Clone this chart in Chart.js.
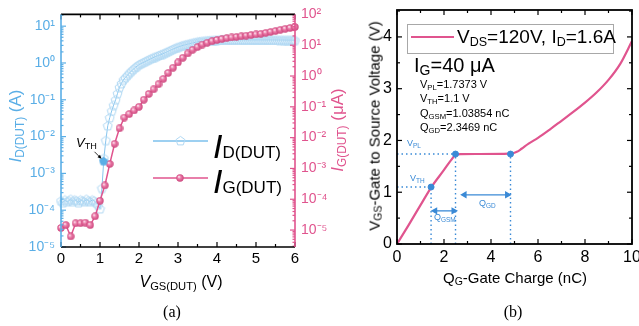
<!DOCTYPE html>
<html>
<head>
<meta charset="utf-8">
<script src="https://cdn.jsdelivr.net/npm/chart.js@4.4.0/dist/chart.umd.min.js"></script>
<style>
body { margin: 0; background: #fff; font-family: "Liberation Sans", Arial, sans-serif; }
#wrap { position: relative; width: 639px; height: 326px; overflow: hidden; }
canvas { position: absolute; top: 0; }
#ca { left: 0; }
#cb { left: 355px; }
.t { position: absolute; white-space: nowrap; line-height: 1; }
.rot { transform: translate(-50%, -50%) rotate(-90deg); }
.ctr { transform: translate(-50%, -50%); }
.s { font-size: 0.7em; vertical-align: -0.22em; }
.blue { color: #5aaee6; }
.pink { color: #e0548e; }
.ann { color: #3a8ad6; font-size: 9px; }
.ann .s { font-size: 0.72em; vertical-align: -0.25em; }
.serif { font-family: "Liberation Serif", "Times New Roman", serif; }
#lgb { position: absolute; left: 407px; top: 24px; width: 205px; height: 28px; border: 1px solid #a8a8a8; }
#lgbLine { position: absolute; left: 411px; top: 36px; width: 43px; height: 2px; background: #e0548e; }
</style>
</head>
<body>
<div id="wrap">
  <canvas id="ca" width="355" height="326"></canvas>
  <canvas id="cb" width="284" height="326"></canvas>

  <!-- (a) texts -->
  <div class="t rot blue" style="left:17px;top:126px;font-size:17px"><i>I</i><span class="s">D(DUT)</span> (A)</div>
  <div class="t rot pink" style="left:339px;top:130px;font-size:17px"><i>I</i><span class="s">G(DUT)</span> (μA)</div>
  <div class="t ctr" style="left:181px;top:283px;font-size:16px"><i>V</i><span class="s">GS(DUT)</span> (V)</div>
  <div class="t ctr serif" style="left:172px;top:312px;font-size:16px">(a)</div>
  <div class="t" style="left:76px;top:136px;font-size:13px"><i>V</i><span class="s">TH</span></div>
  <div class="t" style="left:213px;top:129px;font-size:34px"><i>I</i><span style="font-size:17px">D(DUT)</span></div>
  <div class="t" style="left:213px;top:164px;font-size:34px"><i>I</i><span style="font-size:17px">G(DUT)</span></div>

  <!-- (b) texts -->
  <div class="t rot" style="left:375px;top:126px;font-size:15px">V<span class="s">GS</span>-Gate to Source Voltage (V)</div>
  <div class="t ctr" style="left:515px;top:278px;font-size:15px">Q<span class="s">G</span>-Gate Charge (nC)</div>
  <div class="t ctr serif" style="left:513px;top:312px;font-size:16px">(b)</div>
  <div id="lgb"></div>
  <div id="lgbLine"></div>
  <div class="t" style="left:457px;top:27px;font-size:19px">V<span class="s" style="font-size:0.66em">DS</span>=120V, I<span class="s" style="font-size:0.66em">D</span>=1.6A</div>
  <div class="t" style="left:414px;top:55px;font-size:20px">I<span class="s">G</span>=40 μA</div>
  <div class="t" style="left:420px;top:79px;font-size:11px">V<span class="s">PL</span>=1.7373 V</div>
  <div class="t" style="left:420px;top:93px;font-size:11px">V<span class="s">TH</span>=1.1 V</div>
  <div class="t" style="left:420px;top:108px;font-size:11px">Q<span class="s">GSM</span>=1.03854 nC</div>
  <div class="t" style="left:420px;top:122px;font-size:11px">Q<span class="s">GD</span>=2.3469 nC</div>
  <div class="t ann" style="left:407px;top:139px">V<span class="s">PL</span></div>
  <div class="t ann" style="left:410px;top:174px">V<span class="s">TH</span></div>
  <div class="t ann" style="left:434px;top:213px">Q<span class="s">GSM</span></div>
  <div class="t ann" style="left:479px;top:199px">Q<span class="s">GD</span></div>
</div>

<script>
(function () {

    // ── Données (a) : Id / Ig en fonction de Vgs ─────────────────────────────
    var vgsD = [0, 0.05, 0.1, 0.15, 0.2, 0.25, 0.3, 0.35, 0.4, 0.45,
                0.5, 0.55, 0.6, 0.65, 0.7, 0.75, 0.8, 0.85, 0.9, 0.95,
                1.0, 1.05, 1.1, 1.15, 1.2, 1.25, 1.3, 1.35, 1.4, 1.45,
                1.5, 1.55, 1.6, 1.65, 1.7, 1.75, 1.8, 1.85, 1.9, 1.95,
                2.0, 2.05, 2.1, 2.15, 2.2, 2.25, 2.3, 2.35, 2.4, 2.45,
                2.5, 2.55, 2.6, 2.65, 2.7, 2.75, 2.8, 2.85, 2.9, 2.95,
                3.0, 3.05, 3.1, 3.15, 3.2, 3.25, 3.3, 3.35, 3.4, 3.45,
                3.5, 3.55, 3.6, 3.65, 3.7, 3.75, 3.8, 3.85, 3.9, 3.95,
                4.0, 4.05, 4.1, 4.15, 4.2, 4.25, 4.3, 4.35, 4.4, 4.45,
                4.5, 4.55, 4.6, 4.65, 4.7, 4.75, 4.8, 4.85, 4.9, 4.95,
                5.0, 5.05, 5.1, 5.15, 5.2, 5.25, 5.3, 5.35, 5.4, 5.45,
                5.5, 5.55, 5.6, 5.65, 5.7, 5.75, 5.8, 5.85, 5.9, 5.95, 6.0];
    var idDut = [1.8e-4, 1.6e-4, 1.9e-4, 1.7e-4, 1.8e-4, 2.0e-4, 1.7e-4, 1.9e-4, 1.8e-4, 1.6e-4,
                 1.9e-4, 1.8e-4, 1.7e-4, 2.0e-4, 1.8e-4, 1.7e-4, 1.9e-4, 1.8e-4, 1.6e-4, 1.4e-4,
                 1.1e-4, 4.0e-4, 2.6e-3, 8.0e-3, 0.02, 0.033, 0.05, 0.072, 0.1, 0.15,
                 0.22, 0.28, 0.35, 0.40, 0.46, 0.53, 0.6, 0.67, 0.75, 0.82,
                 0.9, 0.96, 1.02, 1.08, 1.15, 1.22, 1.3, 1.37, 1.45, 1.52,
                 1.6, 1.67, 1.75, 1.85, 1.95, 2.07, 2.2, 2.32, 2.45, 2.58,
                 2.7, 2.83, 2.95, 3.05, 3.15, 3.25, 3.35, 3.45, 3.55, 3.65,
                 3.75, 3.83, 3.9, 3.95, 4.0, 4.05, 4.1, 4.12, 4.15, 4.18,
                 4.2, 4.22, 4.23, 4.25, 4.25, 4.26, 4.26, 4.25, 4.26, 4.25,
                 4.25, 4.26, 4.25, 4.25, 4.24, 4.25, 4.25, 4.24, 4.25, 4.24,
                 4.24, 4.25, 4.24, 4.24, 4.23, 4.24, 4.23, 4.23, 4.22, 4.23,
                 4.22, 4.22, 4.21, 4.22, 4.21, 4.21, 4.2, 4.2, 4.2, 4.19, 4.19];

    var vgsG = [0, 0.125, 0.25, 0.375, 0.5, 0.625, 0.75, 0.875,
                1.0, 1.125, 1.25, 1.375, 1.5, 1.625, 1.75, 1.875,
                2.0, 2.125, 2.25, 2.375, 2.5, 2.625, 2.75, 2.875,
                3.0, 3.125, 3.25, 3.375, 3.5, 3.625, 3.75, 3.875,
                4.0, 4.125, 4.25, 4.375, 4.5, 4.625, 4.75, 4.875,
                5.0, 5.125, 5.25, 5.375, 5.5, 5.625, 5.75, 5.875, 6.0];
    var igDut = [1.17e-5, 1.45e-5, 6.2e-6, 1.66e-5, 1.66e-5, 1.74e-5, 1.45e-5, 2.8e-5,
                 8.9e-5, 2.8e-4, 1.4e-3, 6.3e-3, 0.02, 0.045, 0.058, 0.076,
                 0.1, 0.17, 0.26, 0.37, 0.54, 0.81, 1.26, 1.86,
                 2.75, 3.9, 5.4, 7.1, 8.7, 10.5, 12.0, 13.5,
                 14.8, 15.8, 17.0, 17.8, 18.6, 19.5, 20.4, 21.4,
                 22.4, 23.4, 25.1, 26.9, 28.8, 31.6, 33.9, 36.3, 38.9];

    var vthMarkX = [1.09];
    var vthMarkY = [2.2e-3];

    var xTicksA = [0, 1, 2, 3, 4, 5, 6];
    var decL = [1e-5, 1e-4, 1e-3, 1e-2, 1e-1, 1, 10];
    var decR = [1e-5, 1e-4, 1e-3, 1e-2, 1e-1, 1, 10, 100];

    // ── Données (b) : charge de grille ───────────────────────────────────────
    var qg  = [0, 0.5, 1.0, 1.45, 2.0, 2.3, 2.49, 2.7, 3.5, 4.5, 4.9, 5.1, 5.3, 5.6,
               6.0, 6.5, 7.0, 7.5, 8.0, 8.5, 9.0, 9.5, 10.0];
    var vgs = [0, 0.37, 0.75, 1.09, 1.43, 1.62, 1.72, 1.737, 1.738, 1.74, 1.75, 1.78, 1.84, 1.94,
               2.05, 2.21, 2.38, 2.55, 2.73, 2.93, 3.17, 3.48, 3.92];

    var xTicksB = [0, 2, 4, 6, 8, 10];
    var yTicksB = [0, 1, 2, 3, 4];

    var qTh = 1.45, vTh = 1.1, qPl1 = 2.49, qPl2 = 4.83, vPl = 1.7373;
    var qgsmArrow = [1.62, 2.41], qgsmY = 0.64;
    var qgdArrow  = [2.87, 4.69], qgdY  = 0.95;

    // ── Couleurs ─────────────────────────────────────────────────────────────
    var BLUE = '#5aaee6', PINK = '#e0548e', DOT = '#3a8ad6';

    Chart.defaults.font.family = '"Liberation Sans", Arial, sans-serif';
    Chart.defaults.color = '#000';

    function xy(xs, ys) {
        return xs.map(function (x, i) { return { x: x, y: ys[i] }; });
    }

    var sup = { '-': '\u207B', '0': '\u2070', '1': '\u00B9', '2': '\u00B2', '3': '\u00B3', '4': '\u2074', '5': '\u2075' };
    function powLabel(v) {
        var e = Math.round(Math.log10(v));
        return '10' + String(e).split('').map(function (c) { return sup[c]; }).join('');
    }

    // ── Marqueurs ────────────────────────────────────────────────────────────
    function pentagon(size, stroke, fill) {
        var c = document.createElement('canvas');
        c.width = c.height = size;
        var g = c.getContext('2d');
        var r = size / 2 - 0.8;
        g.beginPath();
        for (var i = 0; i < 5; i++) {
            var a = -Math.PI / 2 + i * 2 * Math.PI / 5;
            var px = size / 2 + r * Math.cos(a), py = size / 2 + 0.6 + r * Math.sin(a);
            if (i === 0) g.moveTo(px, py); else g.lineTo(px, py);
        }
        g.closePath();
        if (fill) { g.fillStyle = fill; g.fill(); }
        g.strokeStyle = stroke; g.lineWidth = 1; g.stroke();
        return c;
    }

    function sphere(d) {
        var c = document.createElement('canvas');
        c.width = c.height = d;
        var g = c.getContext('2d');
        var grad = g.createRadialGradient(d * 0.36, d * 0.34, 0.3, d / 2, d / 2, d / 2);
        grad.addColorStop(0, '#fde8f1');
        grad.addColorStop(0.35, '#ec7eab');
        grad.addColorStop(1, '#c93f77');
        g.fillStyle = grad;
        g.beginPath();
        g.arc(d / 2, d / 2, d / 2 - 0.3, 0, 2 * Math.PI);
        g.fill();
        return c;
    }

    var pentImg  = pentagon(11, '#b0d8f3', null);
    var pentFill = pentagon(10, BLUE, BLUE);
    var sphImg   = sphere(8);

    function seg(ctx, x1, y1, x2, y2, col) {
        ctx.strokeStyle = col;
        ctx.beginPath(); ctx.moveTo(x1, y1); ctx.lineTo(x2, y2); ctx.stroke();
    }

    function logTicks(ctx, sc, a, xEdge, dir, col, lo, hi) {
        for (var e = lo; e <= hi; e++) {
            for (var m = 1; m <= 9; m++) {
                var v = m * Math.pow(10, e);
                if (v < sc.min * 0.999 || v > sc.max * 1.001) continue;
                var p = sc.getPixelForValue(v);
                seg(ctx, xEdge, p, xEdge + dir * (m === 1 ? 5 : 2.5), p, col);
            }
        }
    }

    // ── Cadre, graduations et légende (a) ────────────────────────────────────
    var frameA = {
        id: 'frameA',
        afterDraw: function (chart) {
            var ctx = chart.ctx, a = chart.chartArea;
            var sx = chart.scales.x, yl = chart.scales.yL, yr = chart.scales.yR;
            ctx.save();
            ctx.lineWidth = 1.2;
            for (var v = 0; v <= 6; v += 0.5) {
                var px = sx.getPixelForValue(v), len = (v % 1 === 0) ? 5 : 3;
                seg(ctx, px, a.bottom, px, a.bottom - len, '#000');
                seg(ctx, px, a.top, px, a.top + len, '#000');
            }
            logTicks(ctx, yl, a, a.left, 1, BLUE, -5, 1);
            logTicks(ctx, yr, a, a.right, -1, PINK, -6, 2);
            ctx.lineWidth = 1.6;
            seg(ctx, a.left, a.top, a.right, a.top, '#000');
            seg(ctx, a.left, a.bottom, a.right, a.bottom, '#000');
            seg(ctx, a.left, a.top, a.left, a.bottom, BLUE);
            seg(ctx, a.right, a.top, a.right, a.bottom, PINK);

            // légende
            ctx.lineWidth = 1.5;
            seg(ctx, 153, 141, 208, 141, '#7cc0ec');
            ctx.drawImage(pentImg, 175, 135);
            seg(ctx, 153, 178, 208, 178, PINK);
            ctx.drawImage(sphImg, 176, 174);

            // flèche V_TH
            var tx = sx.getPixelForValue(vthMarkX[0]), ty = yl.getPixelForValue(vthMarkY[0]);
            ctx.lineWidth = 0.8;
            seg(ctx, tx - 9, ty - 9, tx - 3, ty - 3, '#000');
            ctx.fillStyle = '#000';
            ctx.beginPath();
            ctx.moveTo(tx - 2, ty - 2); ctx.lineTo(tx - 6, ty - 3.5); ctx.lineTo(tx - 3.5, ty - 6);
            ctx.closePath(); ctx.fill();
            ctx.restore();
        }
    };

    new Chart(document.getElementById('ca'), {
        type: 'scatter',
        data: {
            datasets: [
                {
                    label: 'VTH', data: xy(vthMarkX, vthMarkY), yAxisID: 'yL',
                    pointStyle: pentFill, pointRadius: 4, order: 0
                },
                {
                    label: 'IG(DUT)', data: xy(vgsG, igDut), yAxisID: 'yR', showLine: true,
                    borderColor: PINK, borderWidth: 1.5, pointStyle: sphImg, pointRadius: 4,
                    clip: { left: 5, right: 5, top: 5, bottom: 0 }, order: 1
                },
                {
                    label: 'ID(DUT)', data: xy(vgsD, idDut), yAxisID: 'yL', showLine: true,
                    borderColor: '#86c5ee', borderWidth: 1, pointStyle: pentImg, pointRadius: 4,
                    clip: { left: 5, right: 5, top: 5, bottom: 0 }, order: 2
                }
            ]
        },
        options: {
            responsive: false,
            animation: false,
            layout: { padding: { top: 11, left: 0, right: 0, bottom: 0 } },
            plugins: { legend: { display: false }, tooltip: { enabled: false } },
            scales: {
                x: {
                    type: 'linear', min: 0, max: 6,
                    grid: { display: false, drawTicks: false }, border: { display: false },
                    ticks: { padding: 3, font: { size: 15 }, color: '#000', maxRotation: 0 },
                    afterBuildTicks: function (s) { s.ticks = xTicksA.map(function (v) { return { value: v }; }); },
                    afterFit: function (s) { s.height = 79; s.paddingLeft = 0; s.paddingRight = 0; }
                },
                yL: {
                    type: 'logarithmic', position: 'left', min: 1e-5, max: Math.pow(10, 1.32),
                    grid: { display: false, drawTicks: false }, border: { display: false },
                    ticks: { padding: 6, font: { size: 14 }, color: BLUE, autoSkip: false,
                             callback: function (v) { return powLabel(v); } },
                    afterBuildTicks: function (s) { s.ticks = decL.map(function (v) { return { value: v }; }); },
                    afterFit: function (s) { s.width = 61; }
                },
                yR: {
                    type: 'logarithmic', position: 'right', min: Math.pow(10, -5.55), max: 100,
                    grid: { display: false, drawTicks: false }, border: { display: false },
                    ticks: { padding: 6, font: { size: 14 }, color: PINK, autoSkip: false,
                             callback: function (v) { return powLabel(v); } },
                    afterBuildTicks: function (s) { s.ticks = decR.map(function (v) { return { value: v }; }); },
                    afterFit: function (s) { s.width = 60; }
                }
            }
        },
        plugins: [frameA]
    });

    // ── Cadre et graduations (b) ─────────────────────────────────────────────
    var frameB = {
        id: 'frameB',
        afterDraw: function (chart) {
            var ctx = chart.ctx, a = chart.chartArea, sx = chart.scales.x, sy = chart.scales.y;
            ctx.save();
            ctx.lineWidth = 1.2;
            for (var q = 0; q <= 10; q += 1) {
                var px = sx.getPixelForValue(q), len = (q % 2 === 0) ? 5 : 3;
                seg(ctx, px, a.bottom, px, a.bottom - len, '#000');
                seg(ctx, px, a.top, px, a.top + len, '#000');
            }
            for (var v = 0; v <= 4.5; v += 0.5) {
                var py = sy.getPixelForValue(v), l2 = (v % 1 === 0) ? 5 : 3;
                seg(ctx, a.left, py, a.left + l2, py, '#000');
                seg(ctx, a.right, py, a.right - l2, py, '#000');
            }
            ctx.lineWidth = 1.8;
            ctx.strokeStyle = '#000';
            ctx.strokeRect(a.left, a.top, a.right - a.left, a.bottom - a.top);
            ctx.restore();
        }
    };

    function dotted(pts) {
        return {
            data: pts, showLine: true, borderColor: DOT, borderWidth: 1.4,
            borderDash: [1.5, 3], pointRadius: 0, order: 3
        };
    }

    new Chart(document.getElementById('cb'), {
        type: 'scatter',
        data: {
            datasets: [
                {
                    label: 'VDS=120V, ID=1.6A', data: xy(qg, vgs), showLine: true,
                    borderColor: PINK, borderWidth: 2.2, pointRadius: 0,
                    cubicInterpolationMode: 'monotone', order: 1
                },
                dotted([{ x: 0, y: vPl }, { x: qPl1, y: vPl }]),
                dotted([{ x: 0, y: vTh }, { x: qTh, y: vTh }]),
                dotted([{ x: qTh, y: 0 }, { x: qTh, y: vTh }]),
                dotted([{ x: qPl1, y: 0 }, { x: qPl1, y: vPl }]),
                dotted([{ x: qPl2, y: 0 }, { x: qPl2, y: vPl }]),
                {
                    data: [{ x: qTh, y: vTh }, { x: qPl1, y: vPl }, { x: qPl2, y: vPl }],
                    pointRadius: 3, pointBackgroundColor: DOT, pointBorderColor: DOT, order: 0
                },
                {
                    data: [{ x: qgsmArrow[0], y: qgsmY }, { x: qgsmArrow[1], y: qgsmY }],
                    showLine: true, borderColor: DOT, borderWidth: 1.3,
                    pointStyle: 'triangle', pointRadius: 3, pointRotation: [270, 90],
                    pointBackgroundColor: DOT, pointBorderColor: DOT, order: 0
                },
                {
                    data: [{ x: qgdArrow[0], y: qgdY }, { x: qgdArrow[1], y: qgdY }],
                    showLine: true, borderColor: DOT, borderWidth: 1.3,
                    pointStyle: 'triangle', pointRadius: 3, pointRotation: [270, 90],
                    pointBackgroundColor: DOT, pointBorderColor: DOT, order: 0
                }
            ]
        },
        options: {
            responsive: false,
            animation: false,
            layout: { padding: { top: 10, left: 0, right: 7, bottom: 0 } },
            plugins: { legend: { display: false }, tooltip: { enabled: false } },
            scales: {
                x: {
                    type: 'linear', min: 0, max: 10,
                    grid: { display: false, drawTicks: false }, border: { display: false },
                    ticks: { padding: 4, font: { size: 16 }, color: '#000', maxRotation: 0 },
                    afterBuildTicks: function (s) { s.ticks = xTicksB.map(function (v) { return { value: v }; }); },
                    afterFit: function (s) { s.height = 82; s.paddingLeft = 0; s.paddingRight = 0; }
                },
                y: {
                    type: 'linear', min: 0, max: 4.52,
                    grid: { display: false, drawTicks: false }, border: { display: false },
                    ticks: { padding: 5, font: { size: 16 }, color: '#000' },
                    afterBuildTicks: function (s) { s.ticks = yTicksB.map(function (v) { return { value: v }; }); },
                    afterFit: function (s) { s.width = 42; s.paddingTop = 0; s.paddingBottom = 0; }
                }
            }
        },
        plugins: [frameB]
    });

})();
</script>
</body>
</html>
